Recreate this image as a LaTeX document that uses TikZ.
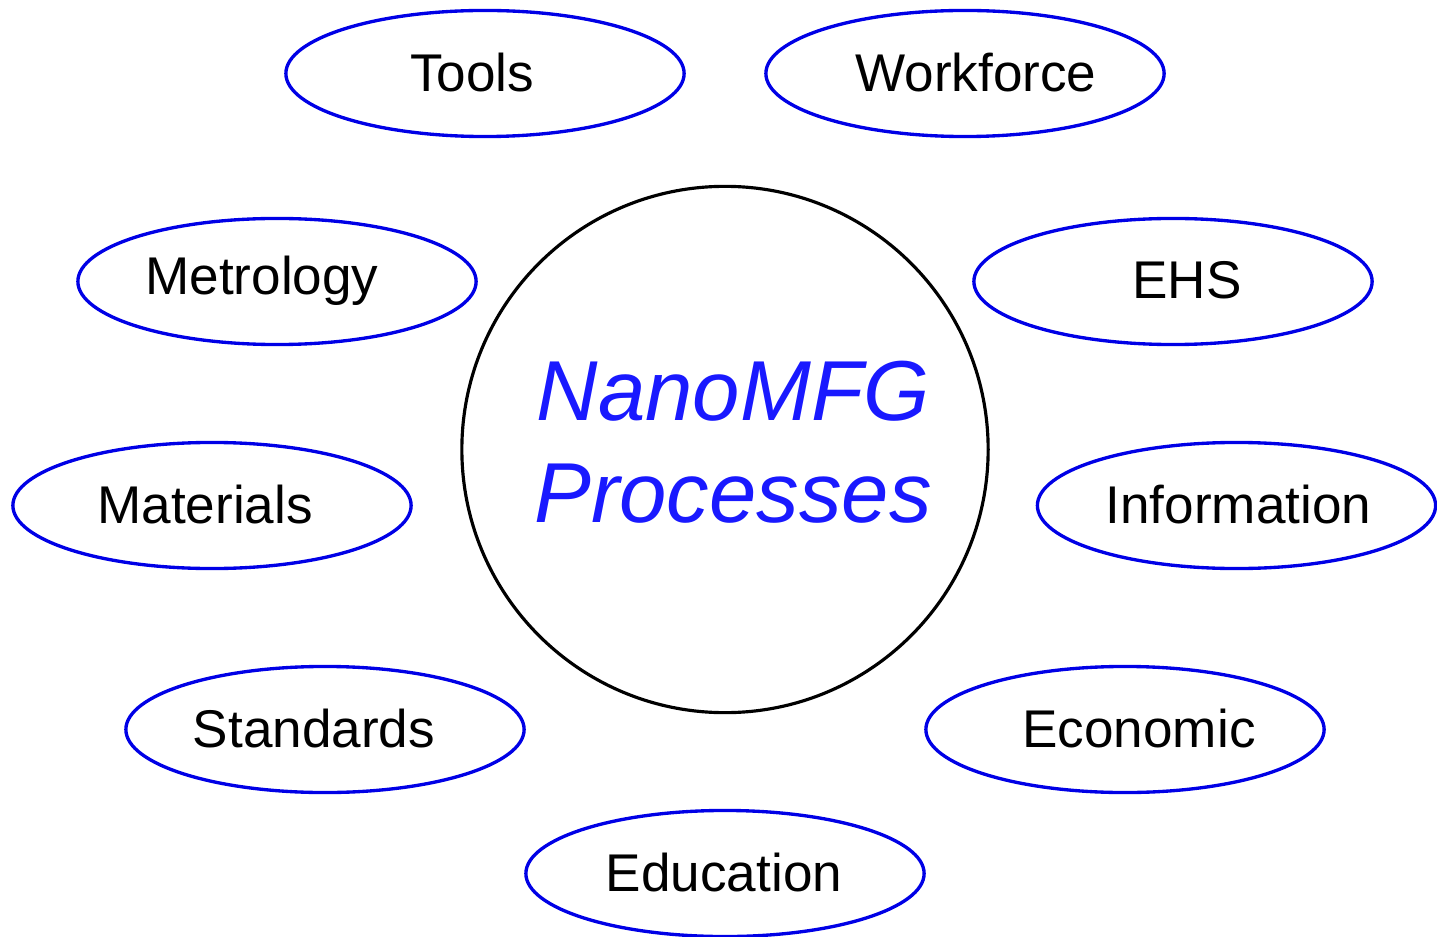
\documentclass[tikz,border=0pt]{standalone}
\usepackage{fontspec}
\setmainfont{Liberation Sans}
\usetikzlibrary{shapes.geometric}
\definecolor{ovalblue}{RGB}{0,0,230}
\definecolor{textblue}{RGB}{25,25,255}
\begin{document}
\begin{tikzpicture}[x=0.01cm,y=-0.01cm,
  oval/.style={ellipse,draw=ovalblue,line width=0.95pt,minimum width=3.98cm,minimum height=1.26cm,inner sep=0pt},
  lab/.style={font=\fontsize{15.1}{17}\selectfont,inner sep=0pt},
  hub/.style={circle,draw=black,line width=0.9pt,minimum size=5.26cm,inner sep=0pt},
  hubtext/.style={font=\fontsize{24.2}{28.9}\selectfont\itshape,text=textblue,align=center,inner sep=0pt}]
\useasboundingbox (0,0) rectangle (1437,937);
\node[hub] (hub) at (725,449.5) {};
\node[hubtext] (hubt) at (733,442) {NanoMFG\\Processes};
\node[oval] (tools) at (485,73.5) {};
\node[lab] at ([xshift=-13*0.01cm,yshift=0.01cm]tools.center) {Tools};
\node[oval] (work) at (965,73.5) {};
\node[lab] at ([xshift=11*0.01cm,yshift=0.01cm]work.center) {Workforce};
\node[oval] (metro) at (277,281.5) {};
\node[lab] at ([xshift=-15*0.01cm,yshift=0.01cm]metro.center) {Metrology};
\node[oval] (ehs) at (1173,281.5) {};
\node[lab] at ([xshift=14*0.01cm,yshift=0.01cm]ehs.center) {EHS};
\node[oval] (mat) at (212,505.5) {};
\node[lab] at ([xshift=-7*0.01cm,yshift=0.01cm]mat.center) {Materials};
\node[oval] (info) at (1236.5,505.5) {};
\node[lab] at ([xshift=2*0.01cm,yshift=0.01cm]info.center) {Information};
\node[oval] (std) at (325,729.5) {};
\node[lab] at ([xshift=-11*0.01cm,yshift=0.01cm]std.center) {Standards};
\node[oval] (eco) at (1125,729.5) {};
\node[lab] at ([xshift=14*0.01cm,yshift=0.01cm]eco.center) {Economic};
\node[oval] (edu) at (725,873.5) {};
\node[lab] at ([xshift=-1*0.01cm,yshift=0.01cm]edu.center) {Education};
\end{tikzpicture}
\end{document}
